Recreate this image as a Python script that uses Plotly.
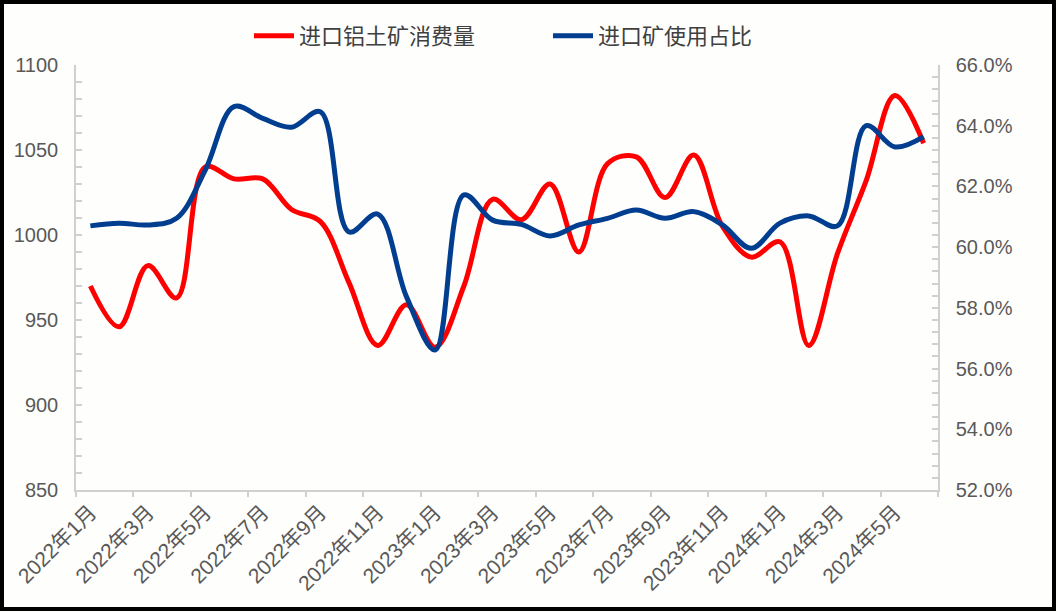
import plotly.graph_objects as go

# Data
months = [
    "2022年1月", "2022年2月", "2022年3月", "2022年4月", "2022年5月", "2022年6月",
    "2022年7月", "2022年8月", "2022年9月", "2022年10月", "2022年11月", "2022年12月",
    "2023年1月", "2023年2月", "2023年3月", "2023年4月", "2023年5月", "2023年6月",
    "2023年7月", "2023年8月", "2023年9月", "2023年10月", "2023年11月", "2023年12月",
    "2024年1月", "2024年2月", "2024年3月", "2024年4月", "2024年5月", "2024年6月",
]
consumption = [970, 946, 982, 963, 1040, 1033, 1033, 1015, 1008, 972,
               935, 959, 934, 970, 1021, 1009, 1030, 990, 1042, 1046,
               1022, 1047, 1005, 987, 996, 935, 989, 1032, 1082, 1054]
share = [60.70, 60.79, 60.73, 60.95, 62.54, 64.63, 64.24, 63.95, 64.46, 60.50,
         61.09, 58.37, 56.61, 61.72, 60.89, 60.75, 60.37, 60.73, 60.95, 61.22,
         60.95, 61.17, 60.73, 59.96, 60.79, 61.03, 60.70, 64.00, 63.30, 63.64]

W, H = 1058, 612
L, R, T, B = 76, 120, 65, 122
pw, ph = W - L - R, H - T - B

bg = "#FEFEFC"
axis_gray = "#D0D0D0"
label_color = "#595959"
num_font = "Liberation Sans, Arial, Noto Sans CJK SC"


def px_x(px):
    return (px - L) / pw


def px_y(py):
    return (H - B - py) / ph


fig = go.Figure()
fig.add_trace(go.Scatter(
    x=months, y=consumption, name="进口铝土矿消费量",
    mode="lines", line=dict(color="#FF0000", width=5, shape="spline", smoothing=1.0),
    yaxis="y",
))
fig.add_trace(go.Scatter(
    x=months, y=share, name="进口矿使用占比",
    mode="lines", line=dict(color="#023E8F", width=5, shape="spline", smoothing=1.0),
    yaxis="y2",
))

fig.update_layout(
    width=W, height=H,
    margin=dict(l=L, r=R, t=T, b=B, autoexpand=False),
    paper_bgcolor=bg, plot_bgcolor=bg,
    showlegend=True,
    legend=dict(
        orientation="h", x=px_x(249), xanchor="left", y=px_y(36), yanchor="middle",
        font=dict(family="Noto Sans CJK SC", size=22, color="#404040"),
        bgcolor="rgba(0,0,0,0)", itemwidth=40, entrywidth=244,
    ),
    xaxis=dict(
        type="category", range=[-0.5, len(months) - 0.5],
        tickmode="linear", tick0=0, dtick=2, tickson="boundaries",
        ticks="outside", ticklen=5, tickcolor=axis_gray, tickwidth=1.5,
        showline=True, linecolor=axis_gray, linewidth=1.5,
        showgrid=False, zeroline=False, tickangle=-45,
        tickfont=dict(family=num_font, size=21, color=label_color),
    ),
    yaxis=dict(
        range=[850, 1100], dtick=50, tick0=850,
        ticks="inside", ticklen=6, tickcolor=axis_gray, tickwidth=1.5,
        minor=dict(dtick=10, ticks="inside", ticklen=6, tickcolor=axis_gray, tickwidth=1.5),
        showline=True, linecolor=axis_gray, linewidth=1.5,
        showgrid=False, zeroline=False,
        tickfont=dict(family=num_font, size=20, color=label_color),
        ticklabelstandoff=12,
    ),
    yaxis2=dict(
        overlaying="y", side="right",
        range=[52, 66], dtick=2, tick0=52, tickformat=".1f", ticksuffix="%",
        ticks="inside", ticklen=6, tickcolor=axis_gray, tickwidth=1.5,
        minor=dict(dtick=0.4, ticks="inside", ticklen=6, tickcolor=axis_gray, tickwidth=1.5),
        showline=True, linecolor=axis_gray, linewidth=1.5,
        showgrid=False, zeroline=False,
        tickfont=dict(family=num_font, size=20, color=label_color),
        ticklabelstandoff=12,
    ),
    shapes=[dict(
        type="rect", xref="paper", yref="paper",
        x0=px_x(2), x1=px_x(W - 4), y0=px_y(H - 3), y1=px_y(2),
        line=dict(color="black", width=4), fillcolor="rgba(0,0,0,0)", layer="above",
    )],
)

fig.write_html(
    "out.html",
    config={"displayModeBar": False},
    post_script="document.body.style.margin='0';",
)
